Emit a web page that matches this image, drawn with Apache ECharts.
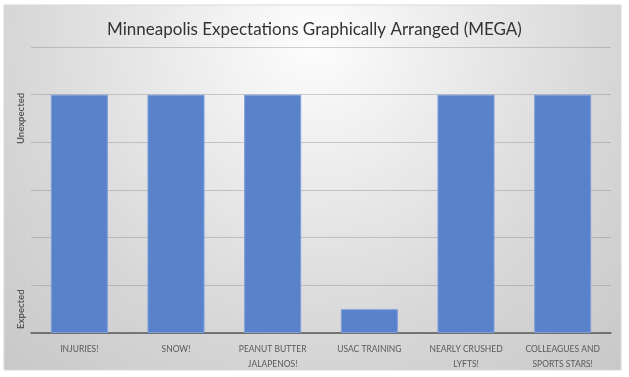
<!DOCTYPE html>
<html>
<head>
    <meta charset="UTF-8">
    <script type="text/javascript" src="https://cdn.jsdelivr.net/npm/echarts@6/dist/echarts.min.js"></script>
    <title>MEGA</title>
    <style>
        html, body { margin: 0; padding: 0; background: #fff; }
        #chart { width: 629px; height: 377px; }
    </style>
</head>
<body>
    <div id="chart"></div>
    <script type="text/javascript">
    // data
    var categories = ['INJURIES!', 'SNOW!', 'PEANUT BUTTER\nJALAPENOS!', 'USAC TRAINING', 'NEARLY CRUSHED\nLYFTS!', 'COLLEAGUES AND\nSPORTS STARS!'];
    var values = [5, 5, 5, 0.5, 5, 5];
    var yLabelValues = [0.5, 4.5];
    var yLabelTexts = ['Expected', 'Unexpected'];

    var chart = echarts.init(document.getElementById('chart'));
    var option = {
        animation: false,
        title: {
            text: 'Minneapolis Expectations Graphically Arranged (MEGA)',
            left: 'center',
            top: 16,
            textStyle: {
                fontFamily: 'Lato',
                fontSize: 17,
                fontWeight: 'normal',
                color: '#333333'
            }
        },
        graphic: [{
            type: 'rect',
            z: -10,
            silent: true,
            shape: { x: 4, y: 5, width: 617, height: 365 },
            style: {
                fill: new echarts.graphic.RadialGradient(313, 40, 470, [
                    { offset: 0, color: '#fdfdfd' },
                    { offset: 0.3, color: '#ebebeb' },
                    { offset: 0.65, color: '#d6d6d6' },
                    { offset: 1, color: '#c6c6c6' }
                ], true),
                stroke: '#d9d9d9',
                lineWidth: 1
            }
        }],
        grid: {
            left: 31,
            right: 18,
            top: 47,
            bottom: 44
        },
        xAxis: {
            type: 'category',
            data: categories,
            axisTick: { show: false },
            axisLine: { lineStyle: { color: '#595959', width: 1.5 } },
            axisLabel: {
                interval: 0,
                margin: 9,
                fontFamily: 'Lato',
                fontSize: 8.5,
                lineHeight: 15,
                color: '#595959'
            }
        },
        yAxis: {
            type: 'value',
            min: 0,
            max: 6,
            interval: 1,
            axisLine: { show: false },
            axisTick: { show: false },
            splitLine: { lineStyle: { color: 'rgba(120,120,120,0.34)', width: 1 } },
            axisLabel: {
                customValues: yLabelValues,
                rotate: 90,
                margin: 5,
                fontFamily: 'Lato',
                fontSize: 9.5,
                fontWeight: 'bold',
                color: '#595959',
                formatter: function (v) {
                    var i = yLabelValues.indexOf(v);
                    return i >= 0 ? yLabelTexts[i] : '';
                }
            }
        },
        series: [{
            type: 'bar',
            data: values,
            barWidth: '59%',
            itemStyle: {
                color: '#5a82cb',
                borderColor: '#7e9fdb',
                borderWidth: 1
            }
        }]
    };
    chart.setOption(option);
    </script>
</body>
</html>
